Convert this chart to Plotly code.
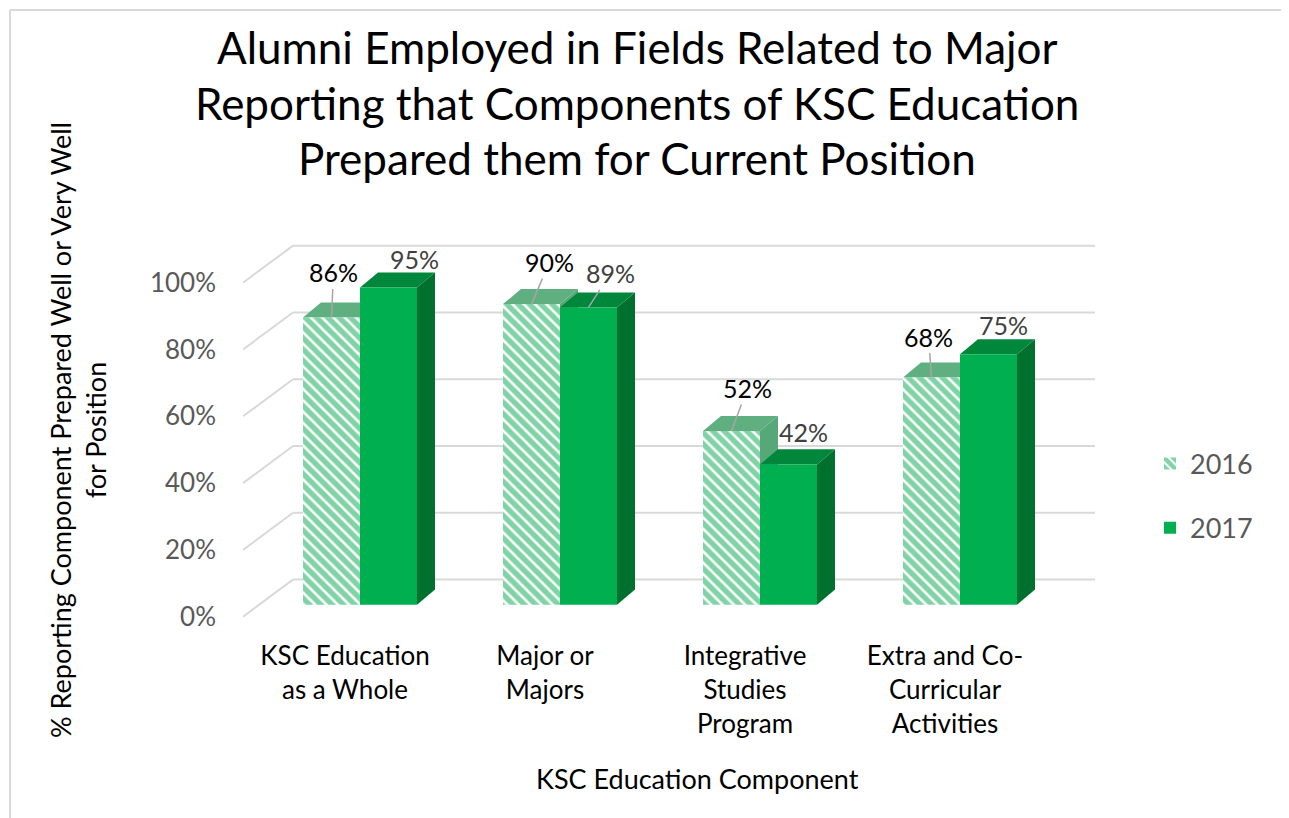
import plotly.graph_objects as go

categories = ["KSC Education<br>as a Whole", "Major or<br>Majors",
              "Integrative<br>Studies<br>Program", "Extra and Co-<br>Curricular<br>Activities"]
years = ["2016", "2017"]
vals_2016 = [0.86, 0.90, 0.52, 0.68]
vals_2017 = [0.95, 0.89, 0.42, 0.75]
y_ticks = [0, 0.2, 0.4, 0.6, 0.8, 1.0]
title_lines = ["Alumni Employed in Fields Related to Major",
               "Reporting that Components of KSC Education",
               "Prepared them for Current Position"]

GREEN = "#00B050"
STRIPE = "#00A84B"
TOP_2017 = "#00873C"
SIDE_2017 = "#00702F"
TOP_2016 = "#5FAF80"
SIDE_2016 = "#56A878"
GRID = "#D9D9D9"
FONT = "Lato"

W = 0.285              # bar width (category units)
DX, DY = 0.09, 0.045   # bar depth
WALL_X0, WALL_X1 = -0.335, 3.675
WALL_DY = 0.075        # back wall offset from bar plane
FRONT_X, FRONT_DY = -0.585, -0.036  # front edge of floor
x_pos = list(range(len(categories)))

# the page body adds an 8px offset; plot area sits at px x 243..1095, y 244..618
PL, PT, PW, PH = 243, 244, 852, 374
OFF = 8


def px(xp, yp):
    return (xp - PL) / PW, (PT + PH - yp) / PH


fig = go.Figure()
fig.add_trace(go.Bar(
    x=x_pos, y=vals_2016, name=years[0], width=W, offset=-W,
    marker=dict(color="white", line=dict(width=0),
                pattern=dict(shape="\\", fgcolor=STRIPE, bgcolor="white", size=8, solidity=0.68)),
    legendgroup="a"))
fig.add_trace(go.Bar(
    x=x_pos, y=vals_2017, name=years[1], width=W, offset=0,
    marker=dict(color=GREEN, line=dict(width=0)), legendgroup="b"))

shapes = []
# back wall gridlines and left wall slants
for t in y_ticks:
    shapes.append(dict(type="line", layer="below", xref="x", yref="y",
                       x0=WALL_X0, y0=t + WALL_DY, x1=WALL_X1, y1=t + WALL_DY,
                       line=dict(color=GRID, width=2)))
    shapes.append(dict(type="line", layer="below", xref="x", yref="y",
                       x0=FRONT_X, y0=t + FRONT_DY, x1=WALL_X0, y1=t + WALL_DY,
                       line=dict(color=GRID, width=2)))


def faces(x0, x1, v, top, side):
    top_path = f"M{x0},{v} L{x0 + DX},{v + DY} L{x1 + DX},{v + DY} L{x1},{v} Z"
    side_path = f"M{x1},0 L{x1 + DX},{DY} L{x1 + DX},{v + DY} L{x1},{v} Z"
    return [dict(type="path", path=side_path, fillcolor=side, line=dict(width=0),
                 layer="between", xref="x", yref="y"),
            dict(type="path", path=top_path, fillcolor=top, line=dict(width=0),
                 layer="between", xref="x", yref="y")]


for i, v in enumerate(vals_2016):
    shapes += faces(i - W, i, v, TOP_2016, SIDE_2016)
for i, v in enumerate(vals_2017):
    shapes += faces(i, i + W, v, TOP_2017, SIDE_2017)

# chart border (left and top edges)
bx0, by1 = px(10, 10)
shapes.append(dict(type="line", xref="paper", yref="paper", x0=bx0, x1=bx0, y0=-1.0, y1=by1,
                   line=dict(color=GRID, width=2)))
shapes.append(dict(type="line", xref="paper", yref="paper", x0=bx0, x1=1.3, y0=by1, y1=by1,
                   line=dict(color=GRID, width=2)))

annotations = []
# label offsets (px) and leader lines
off_2016 = [(2, -45), (18, -42), (16, -43), (-3, -41)]
off_2017 = [(26, -28), (22, -34), (15, -32), (15, -29)]
lead_2017 = [False, True, False, False]
for i, v in enumerate(vals_2016):
    annotations.append(dict(x=i - W / 2, y=v, xref="x", yref="y", text=f"{v:.0%}",
                            showarrow=True, ax=off_2016[i][0], ay=off_2016[i][1],
                            arrowhead=0, arrowwidth=1.5, arrowcolor="#A6A6A6", standoff=0,
                            font=dict(family=FONT, size=25, color="#000000")))
for i, v in enumerate(vals_2017):
    if lead_2017[i]:
        annotations.append(dict(x=i + W / 2, y=v, xref="x", yref="y", text=f"{v:.0%}",
                                showarrow=True, ax=off_2017[i][0], ay=off_2017[i][1],
                                arrowhead=0, arrowwidth=1.5, arrowcolor="#A6A6A6", standoff=0,
                                font=dict(family=FONT, size=25, color="#404040")))
    else:
        annotations.append(dict(x=i + W / 2, y=v, xref="x", yref="y", text=f"{v:.0%}",
                                showarrow=False, xshift=off_2017[i][0], yshift=-off_2017[i][1],
                                font=dict(family=FONT, size=25, color="#404040")))

for line, yp in zip(title_lines, [47, 103, 158]):
    tx, ty = px(637, yp)
    annotations.append(dict(x=tx, y=ty, xref="paper", yref="paper", text=line,
                            showarrow=False, xanchor="center", yanchor="middle",
                            font=dict(family=FONT, size=44, color="#000000")))

ax_, ay_ = px(78, 430)
annotations.append(dict(x=ax_, y=ay_, xref="paper", yref="paper",
                        text="% Reporting Component Prepared Well or Very Well<br>for Position",
                        textangle=-90, showarrow=False, xanchor="center", yanchor="middle",
                        font=dict(family=FONT, size=27, color="#000000")))
xx_, xy_ = px(697, 778)
annotations.append(dict(x=xx_, y=xy_, xref="paper", yref="paper",
                        text="KSC Education Component", showarrow=False,
                        xanchor="center", yanchor="middle",
                        font=dict(family=FONT, size=27, color="#000000")))

lx, ly = px(1150, 496)
fig.update_layout(
    width=1289, height=818,
    barmode="overlay",
    paper_bgcolor="white", plot_bgcolor="white",
    margin=dict(l=PL - OFF, r=1289 - PL - PW + OFF, t=PT - OFF, b=818 - PT - PH + OFF),
    xaxis=dict(range=[-0.585, 3.675], tickvals=x_pos, ticktext=categories,
               showgrid=False, zeroline=False, showline=False, ticks="",
               ticklabelshift=-15, ticklabelstandoff=20,
               tickfont=dict(family=FONT, size=26, color="#000000")),
    yaxis=dict(range=[-0.04, 1.08], tickvals=y_ticks, tickformat=".0%",
               showgrid=False, zeroline=False, showline=False, ticks="",
               ticklabelshift=12, ticklabelstandoff=26,
               tickfont=dict(family=FONT, size=26, color="#595959")),
    legend=dict(x=lx, y=ly, xanchor="left", yanchor="middle",
                traceorder="grouped", tracegroupgap=26,
                font=dict(family=FONT, size=27, color="#595959"),
                bgcolor="rgba(0,0,0,0)"),
    shapes=shapes,
    annotations=annotations,
    showlegend=True,
)

fig.write_html("out.html")
